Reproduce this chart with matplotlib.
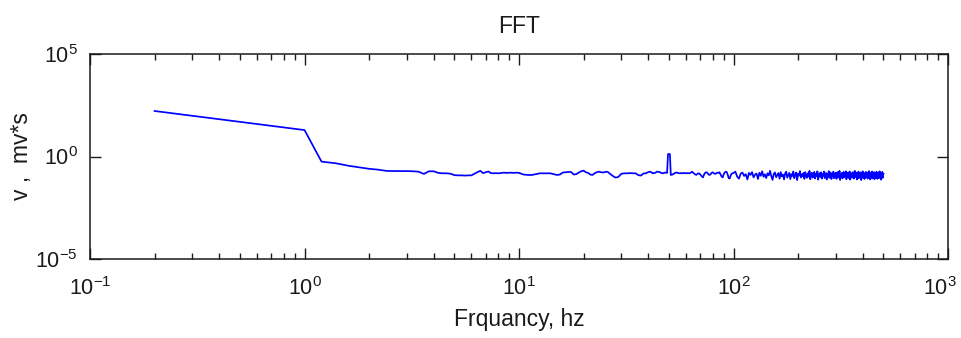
import matplotlib
matplotlib.use("Agg")
import matplotlib.pyplot as plt
import matplotlib.ticker as mticker
import matplotlib.transforms as mtransforms
import numpy as np

# spectrum magnitude, stored as log10 exponents per frequency band
FREQ_LOW = np.round(np.arange(0.2, 10.01, 0.2), 1)
EXP_LOW = [
    2.22, 1.82, 1.59, 1.42, 1.29, -0.25, -0.33, -0.45, -0.53, -0.60,
    -0.64, -0.70, -0.71, -0.71, -0.71, -0.72, -0.74, -0.85, -0.72, -0.72,
    -0.80, -0.82, -0.82, -0.84, -0.91, -0.92, -0.92, -0.93, -0.92, -0.92,
    -0.84, -0.76, -0.70, -0.81, -0.77, -0.73, -0.81, -0.82, -0.81, -0.82,
    -0.81, -0.79, -0.79, -0.80, -0.79, -0.79, -0.80, -0.79, -0.79, -0.80,
]

FREQ_MID = np.arange(10.5, 30.01, 0.5)
EXP_MID = [
    -0.88, -0.90, -0.90, -0.86, -0.82, -0.82, -0.82, -0.82, -0.86, -0.90,
    -0.88, -0.78, -0.77, -0.75, -0.76, -0.88, -0.86, -0.78, -0.72, -0.69,
    -0.77, -0.80, -0.88, -0.90, -0.82, -0.77, -0.74, -0.76, -0.78, -0.77,
    -0.74, -0.76, -0.84, -0.90, -0.96, -1.02, -1.02, -1.00, -0.92, -0.84,
]

FREQ_UPPER = np.arange(31, 101, 1)
EXP_UPPER = [
    -0.82, -0.82, -0.81, -0.82, -0.82, -0.91, -0.93, -0.83, -0.82, -0.76,
    -0.74, -0.82, -0.80, -0.74, -0.75, -0.80, -0.82, -0.78, -0.80, 0.12,
    -0.90, -0.88, -0.82, -0.78, -0.80, -0.82, -0.81, -0.82, -0.80, -0.82,
    -0.81, -0.82, -0.80, -0.74, -0.80, -0.86, -0.90, -0.84, -0.82, -0.88,
    -0.96, -1.02, -0.86, -0.78, -0.77, -0.84, -0.90, -0.88, -0.80, -0.77,
    -0.82, -0.85, -0.82, -0.78, -0.80, -0.77, -0.88, -0.98, -1.02, -0.86,
    -0.78, -0.74, -0.76, -0.90, -1.06, -1.07, -0.92, -0.84, -0.82, -0.80,
]

# 50 Hz mains line
FREQ_MAINS = [49.5, 50.5]
EXP_MAINS = [0.12, 0.12]

FREQ_HIGH = np.arange(102, 501, 2)
EXP_HIGH = [
    -0.74, -0.98, -1.08, -0.84, -0.78, -0.95, -0.86, -1.12, -0.80, -0.90,
    -0.76, -1.02, -0.88, -0.83, -1.10, -0.79, -0.94, -0.72, -0.99, -0.87,
    -1.05, -0.82, -0.92, -0.70, -0.96, -1.14, -0.85, -0.78, -1.01, -0.90,
    -0.81, -1.08, -0.76, -0.97, -0.88, -1.12, -0.83, -0.74, -1.03, -0.91,
    -0.80, -1.10, -0.86, -0.95, -0.73, -1.06, -0.89, -0.78, -1.15, -0.84,
    -0.93, -0.71, -1.02, -0.87, -0.97, -0.80, -1.09, -0.76, -0.92, -1.04,
    -0.82, -0.98, -0.70, -1.11, -0.88, -0.79, -1.03, -0.93, -0.75, -1.07,
    -0.85, -0.96, -0.72, -1.13, -0.90, -0.81, -1.00, -0.77, -1.08, -0.86,
    -0.94, -0.73, -1.05, -0.89, -0.80, -1.12, -0.84, -0.99, -0.71, -1.04,
    -0.91, -0.78, -1.10, -0.87, -0.95, -0.74, -1.06, -0.83, -0.97, -0.79,
    -1.09, -0.88, -0.76, -1.02, -0.93, -0.70, -1.14, -0.85, -0.98, -0.80,
    -1.07, -0.90, -0.75, -1.01, -0.86, -0.96, -0.72, -1.11, -0.83, -0.94,
    -0.78, -1.05, -0.89, -0.73, -1.13, -0.87, -0.99, -0.81, -1.03, -0.76,
    -0.92, -1.08, -0.84, -0.70, -1.00, -0.91, -0.79, -1.12, -0.86, -0.95,
    -0.74, -1.06, -0.88, -1.01, -0.77, -0.93, -1.15, -0.82, -0.97, -0.72,
    -1.04, -0.89, -0.80, -1.10, -0.85, -0.96, -0.75, -1.02, -0.90, -0.78,
    -1.08, -0.84, -0.94, -0.71, -1.05, -0.87, -1.12, -0.79, -0.98, -0.83,
    -0.73, -1.07, -0.91, -0.86, -1.00, -0.76, -1.11, -0.89, -0.95, -0.81,
    -1.03, -0.74, -0.92, -1.09, -0.85, -0.97, -0.78, -1.06, -0.88, -0.72,
    -1.01, -0.94, -0.80, -1.13, -0.87, -0.96, -0.75, -1.04, -0.90, -0.84,
]

LINE_COLOUR = "#0000ff"
TEXT_COLOUR = "#1a1a1a"
FONT = ["Liberation Sans", "DejaVu Sans"]


def _spectrum():
    """Join the frequency bands into one sorted spectrum."""
    freq = np.concatenate([FREQ_LOW, FREQ_MID, FREQ_UPPER, FREQ_MAINS, FREQ_HIGH])
    expo = np.concatenate([EXP_LOW, EXP_MID, EXP_UPPER, EXP_MAINS, EXP_HIGH])
    order = np.argsort(freq)
    return freq[order], 10.0 ** expo[order]


def run():
    plt.rcParams["font.family"] = FONT
    plt.rcParams["axes.unicode_minus"] = False

    freq, amp = _spectrum()

    fig = plt.figure(figsize=(9.61, 3.38), dpi=100)
    ax = fig.add_axes([0.0937, 0.2337, 0.8928, 0.6065])

    ax.loglog(freq, amp, color=LINE_COLOUR, linewidth=1.25)

    ax.set_xlim(1e-1, 1e3)
    ax.set_ylim(1e-5, 1e5)
    ax.set_yticks([1e-5, 1e0, 1e5])
    ax.yaxis.set_minor_locator(mticker.NullLocator())
    ax.xaxis.set_major_locator(mticker.LogLocator(base=10, numticks=10))
    ax.xaxis.set_minor_locator(mticker.LogLocator(base=10, subs=np.arange(2, 10), numticks=10))

    for spine in ax.spines.values():
        spine.set_linewidth(1.1)
        spine.set_color(TEXT_COLOUR)

    ax.tick_params(which="both", direction="in", top=True, right=True,
                   colors=TEXT_COLOUR, width=1.0)
    ax.tick_params(which="major", length=8, labelsize=15.5)
    ax.tick_params(axis="x", which="major", pad=13)
    ax.tick_params(axis="y", which="major", pad=9)
    ax.tick_params(which="minor", length=4.3)

    ax.set_title("FFT", fontsize=16.5, color=TEXT_COLOUR, pad=15)
    ax.set_xlabel("Frquancy, hz", fontsize=16.5, color=TEXT_COLOUR, labelpad=6)
    ax.set_ylabel("v ,  mv*s", fontsize=16.5, color=TEXT_COLOUR)
    ax.yaxis.set_label_coords(-0.066, 0.5)

    # keep the last decade label inside the figure edge
    fig.canvas.draw()
    nudge = mtransforms.ScaledTranslation(-6 / 72, 0, fig.dpi_scale_trans)
    for tick in ax.xaxis.get_major_ticks():
        if np.isclose(tick.get_loc(), 1e3):
            tick.label1.set_transform(tick.label1.get_transform() + nudge)

    fig.savefig("out.png", dpi=100)
    plt.close(fig)


if __name__ == "__main__":
    run()
